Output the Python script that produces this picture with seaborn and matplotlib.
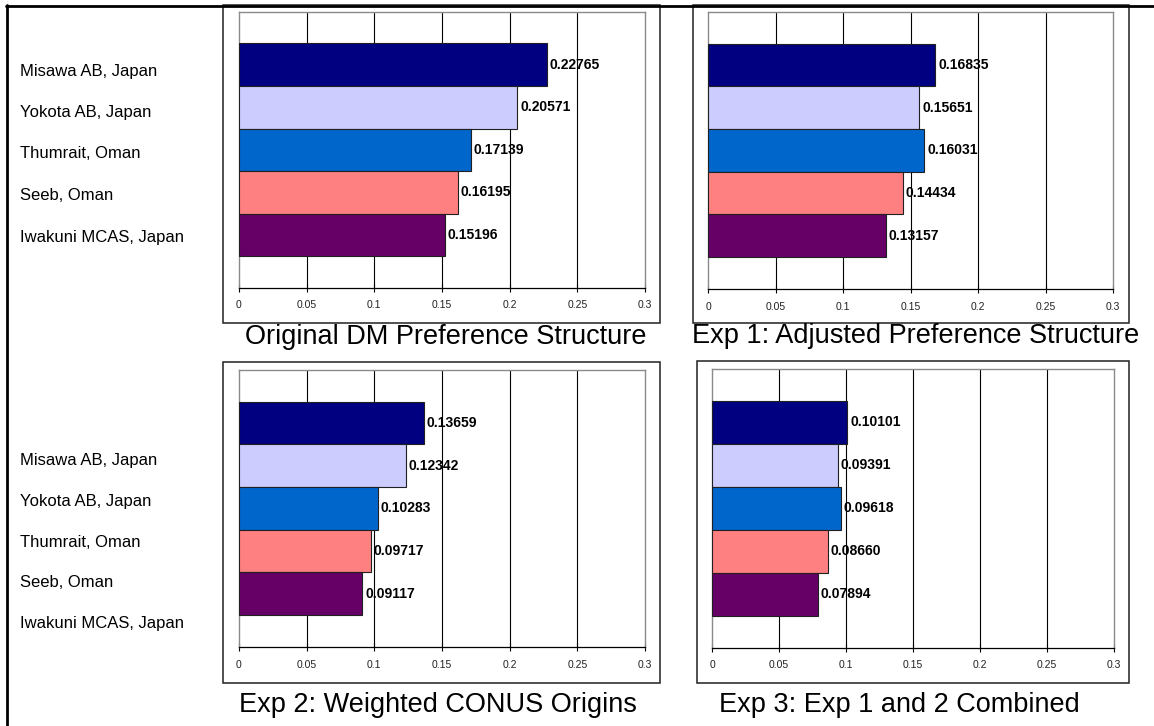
import matplotlib
matplotlib.use("Agg")
import matplotlib.pyplot as plt
from matplotlib.patches import Rectangle
from matplotlib.lines import Line2D
import seaborn as sns
import pandas as pd

# ---------------- data ----------------
locations = ["Misawa AB, Japan", "Yokota AB, Japan", "Thumrait, Oman",
             "Seeb, Oman", "Iwakuni MCAS, Japan"]
original_dm = [0.22765, 0.20571, 0.17139, 0.16195, 0.15196]
exp1_adjusted = [0.16835, 0.15651, 0.16031, 0.14434, 0.13157]
exp2_weighted = [0.13659, 0.12342, 0.10283, 0.09717, 0.09117]
exp3_combined = [0.10101, 0.09391, 0.09618, 0.08660, 0.07894]
titles = ["Original DM Preference Structure", "Exp 1: Adjusted Preference Structure",
          "Exp 2: Weighted CONUS Origins", "Exp 3: Exp 1 and 2 Combined"]
x_ticks = [0, 0.05, 0.1, 0.15, 0.2, 0.25, 0.3]
x_tick_labels = ["0", "0.05", "0.1", "0.15", "0.2", "0.25", "0.3"]
bar_colors = ["#000080", "#CCCCFF", "#0066CC", "#FF8080", "#660066"]

series = [original_dm, exp1_adjusted, exp2_weighted, exp3_combined]

sns.set_theme(style="white")
plt.rcParams["font.family"] = ["Liberation Sans", "DejaVu Sans"]

W, H = 1154, 726
fig = plt.figure(figsize=(W / 100, H / 100), dpi=100)
fig.patch.set_facecolor("white")


def fx(px):
    return px / W


def fy(py):
    return 1 - py / H


# axes rectangles in pixel coords: (left, top, right, bottom)
axes_px = [(239, 12, 645, 288), (708, 12, 1113, 289),
           (239, 370, 645, 647), (712, 369, 1114, 648)]

title_pos = [(446, 344), (916, 343), (438, 712), (899, 712)]

for i, (vals, title) in enumerate(zip(series, titles)):
    l, t, r, b = axes_px[i]
    ax = fig.add_axes([fx(l), fy(b), (r - l) / W, (b - t) / H])
    df = pd.DataFrame({"location": locations, "value": vals})
    sns.barplot(data=df, x="value", y="location", hue="location",
                palette=bar_colors, hue_order=locations, order=locations,
                width=1.0, orient="h", legend=False, ax=ax,
                edgecolor="#202020", linewidth=0.8, saturation=1, zorder=3)
    for cont in ax.containers:
        ax.bar_label(cont, fmt="{:.5f}", padding=2, fontsize=10,
                     fontweight="bold", color="black", zorder=4)
    ax.set_xlim(0, 0.3)
    ax.set_ylim(5.25, -1.24)
    ax.set_xticks(x_ticks)
    ax.set_xticklabels(x_tick_labels)
    ax.set_yticks([])
    ax.set_xlabel("")
    ax.set_ylabel("")
    ax.tick_params(axis="x", direction="inout", length=6, width=0.8,
                   colors="black", labelsize=7.5, pad=6, bottom=True)
    for lbl in ax.get_xticklabels():
        lbl.set_color("#222222")
    for xv in x_ticks[1:-1]:
        ax.axvline(xv, color="black", lw=0.8, zorder=1)
    for s in ["left", "top", "right"]:
        ax.spines[s].set_color("#8a8a8a")
        ax.spines[s].set_linewidth(1.0)
    ax.spines["bottom"].set_color("black")
    ax.spines["bottom"].set_linewidth(0.9)
    ax.set_facecolor("white")

    tx, ty = title_pos[i]
    fig.text(fx(tx), fy(ty), title, ha="center", va="baseline",
             fontsize=19.5, color="black")

# left column labels
label_baselines = [[76, 117, 158, 200, 242], [465, 506, 547, 587, 628]]
for group in label_baselines:
    for name, yb in zip(locations, group):
        fig.text(fx(20), fy(yb), name, ha="left", va="baseline",
                 fontsize=12, color="black")

# frame lines
fig.add_artist(Line2D([fx(6), fx(1154)], [fy(5.5), fy(5.5)], color="black", lw=2.0))
fig.add_artist(Line2D([fx(6.5), fx(6.5)], [fy(5), fy(726)], color="black", lw=2.0))

boxes = [(223, 5, 660, 323), (693, 5, 1129, 323),
         (223, 362, 660, 683), (697, 361, 1129, 683)]
for (l, t, r, b) in boxes:
    fig.add_artist(Rectangle((fx(l), fy(b)), (r - l) / W, (b - t) / H,
                             fill=False, edgecolor="#202020", lw=1.1))

fig.savefig("out.png", dpi=100, facecolor="white")
